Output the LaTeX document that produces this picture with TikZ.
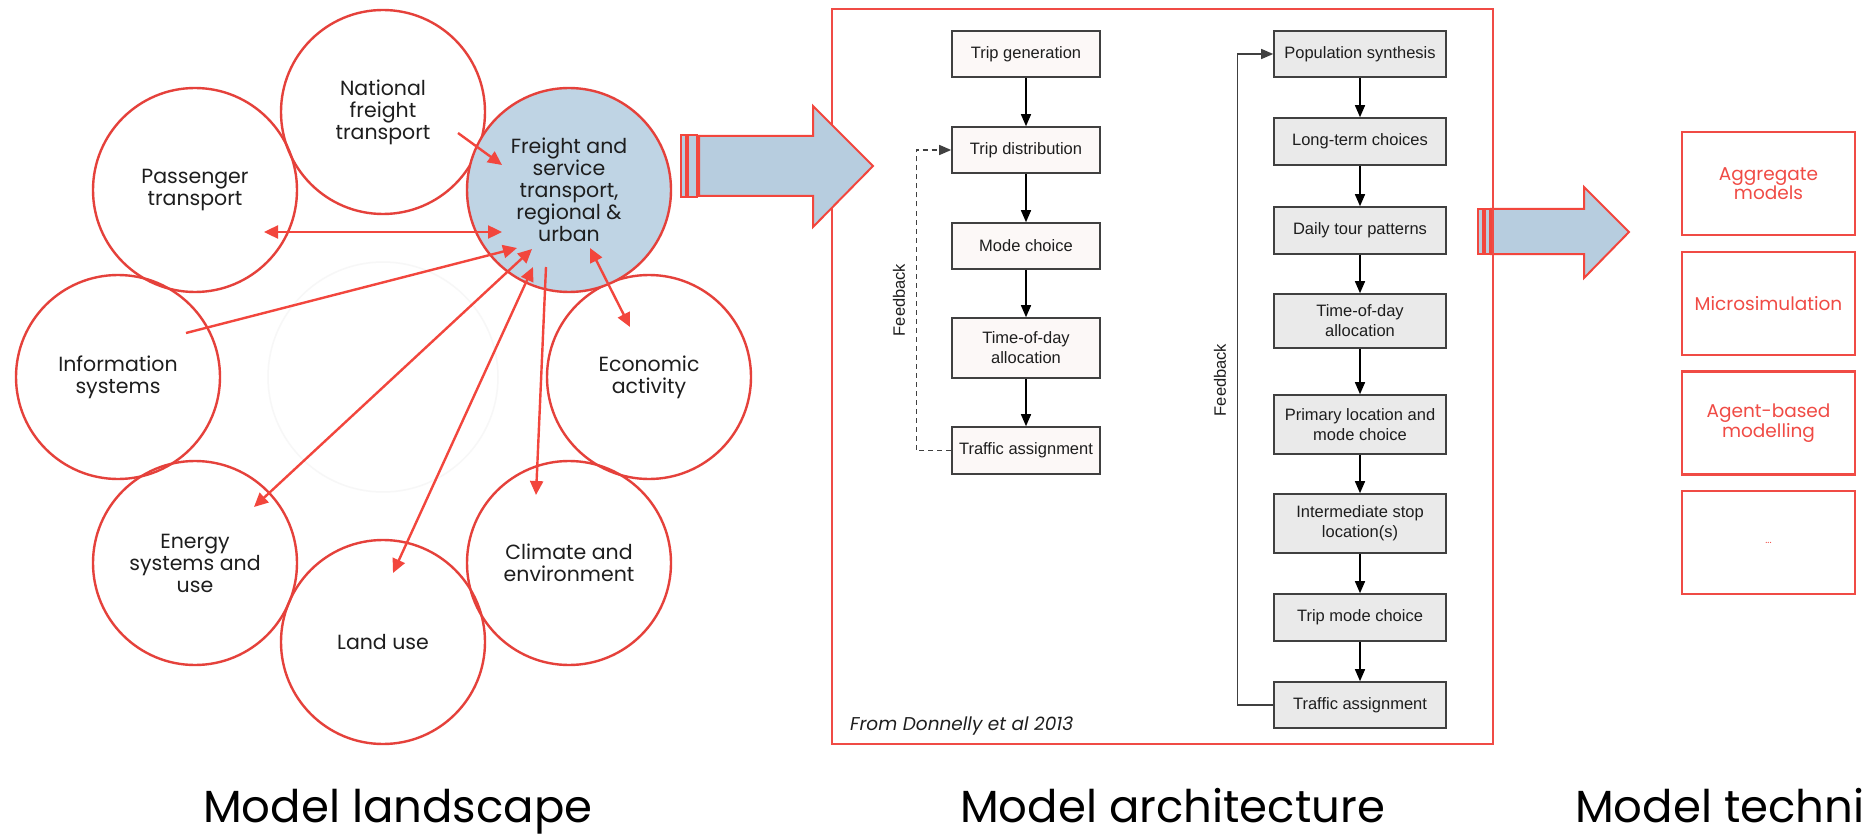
\documentclass[tikz,border=0pt]{standalone}
\usepackage{fontspec}
\setmainfont{Poppins}
\newfontfamily\helv{Liberation Sans}
\usetikzlibrary{arrows.meta}
\definecolor{cred}{HTML}{E5413B}
\definecolor{ared}{HTML}{F2463D}
\definecolor{bred}{HTML}{F04B45}
\definecolor{cblue}{HTML}{BFD4E4}
\definecolor{ablue}{HTML}{B7CDDF}
\definecolor{txt}{HTML}{1E1E1E}
\definecolor{fcline}{HTML}{404040}
\definecolor{lfill}{HTML}{FCF8F7}
\definecolor{rfill}{HTML}{EAEAEA}
\begin{document}
\begin{tikzpicture}[x=1pt,y=-1pt,
 bubble/.style={circle,draw=cred,line width=2.4pt,minimum size=204pt,inner sep=0pt,align=center,text=txt,font=\fontsize{20.5}{22}\selectfont},
 link/.style={draw=ared,line width=2.4pt,-{Triangle[length=14pt,width=13pt]}},
 blink/.style={draw=ared,line width=2.4pt,{Triangle[length=14pt,width=13pt]}-{Triangle[length=14pt,width=13pt]}},
 lbox/.style={draw=fcline,line width=1.6pt,fill=lfill,minimum width=148pt,inner sep=0pt,align=center,text=txt,font=\helv\fontsize{16.5}{20}\selectfont},
 rbox/.style={lbox,fill=rfill,minimum width=172pt},
 farrow/.style={draw=black,line width=1.4pt,-{Triangle[length=12pt,width=10pt]}},
 fblabel/.style={rotate=90,inner sep=0pt,text=txt,font=\helv\fontsize{16.5}{20}\selectfont},
 tbox/.style={draw=bred,line width=2.4pt,minimum width=173pt,minimum height=103pt,inner sep=0pt,align=center,text=bred,font=\fontsize{18.5}{19.5}\selectfont},
 title/.style={anchor=base west,inner sep=0pt,font=\fontsize{45}{48}\selectfont,text=black},
 barrow/.style={draw=ared,line width=2pt,fill=ablue,line join=miter}
]
\useasboundingbox (0,0) rectangle (1863,837);
\fill[white] (0,0) rectangle (1863,837);

% faint ring
\draw[black!3,line width=1.5pt] (383,377) circle[radius=115];

% landscape circles
\node[bubble] (nat) at (383,112) {National\\freight\\transport};
\node[bubble] (pas) at (195,190) {Passenger\\transport};
\node[bubble] (inf) at (118,377) {Information\\systems};
\node[bubble] (eco) at (649,377) {Economic\\activity};
\node[bubble] (ene) at (195,563) {Energy\\systems and\\use};
\node[bubble] (lan) at (383,642) {Land use};
\node[bubble] (cli) at (569,563) {Climate and\\environment};
\node[bubble,fill=cblue] (fre) at (569,190) {Freight and\\service\\transport,\\regional \&\\urban};

% arrow end points
\coordinate (natS) at (458,133);  \coordinate (natE) at (502,165);
\coordinate (pasS) at (264,232);  \coordinate (pasE) at (502,232);
\coordinate (infS) at (186,333);  \coordinate (infE) at (517,248);
\coordinate (eneS) at (532,249);  \coordinate (eneE) at (254,507);
\coordinate (lanS) at (533,267);  \coordinate (lanE) at (393,573);
\coordinate (cliS) at (546,267);  \coordinate (cliE) at (536,495);
\coordinate (ecoS) at (590,248);  \coordinate (ecoE) at (630,327);

\draw[link] (natS) -- (natE);
\draw[blink] (pasS) -- (pasE);
\draw[link] (infS) -- (infE);
\draw[blink] (eneS) -- (eneE);
\draw[blink] (lanS) -- (lanE);
\draw[link] (cliS) -- (cliE);
\draw[blink] (ecoS) -- (ecoE);

% second block arrow (under the frame)
\draw[barrow] (1491,209) -- (1584,209) -- (1584,187) -- (1629,232) -- (1584,278) -- (1584,254) -- (1491,254) -- cycle;
\draw[barrow] (1478,209) rectangle (1483,254);
\draw[barrow] (1485,209) rectangle (1490,254);

% architecture frame
\node[draw=bred,line width=2.4pt,minimum width=661pt,minimum height=735pt,inner sep=0pt] (arch) at (1162.5,376.5) {};

% first block arrow (over the frame)
\draw[barrow] (699,136) -- (813,136) -- (813,106) -- (873,166) -- (813,227) -- (813,196) -- (699,196) -- cycle;
\draw[barrow] (681,135) rectangle (686,197);
\draw[barrow] (688,135) rectangle (697,197);

% left flowchart
\node[lbox,minimum height=46pt] (tg) at (1026,54) {Trip generation};
\node[lbox,minimum height=46pt] (td) at (1026,150) {Trip distribution};
\node[lbox,minimum height=46pt] (mc) at (1026,246) {Mode choice};
\node[lbox,minimum height=60pt] (tod) at (1026,348) {Time-of-day\\allocation};
\node[lbox,minimum height=47pt] (ta) at (1026,450.5) {Traffic assignment};
\draw[farrow] (tg) -- (td);
\draw[farrow] (td) -- (mc);
\draw[farrow] (mc) -- (tod);
\draw[farrow] (tod) -- (ta);
\draw[farrow,draw=fcline,dash pattern=on 5pt off 4pt] (ta.west) -- ++(-35,0) |- (td.west);
\node[fblabel] (fb1) at (899,300) {Feedback};

% right flowchart
\node[rbox,minimum height=46pt] (ps) at (1360,54) {Population synthesis};
\node[rbox,minimum height=47pt] (lt) at (1360,141.5) {Long-term choices};
\node[rbox,minimum height=47pt] (dt) at (1360,230.5) {Daily tour patterns};
\node[rbox,minimum height=54pt] (tod2) at (1360,321) {Time-of-day\\allocation};
\node[rbox,minimum height=59pt] (pl) at (1360,424.5) {Primary location and\\mode choice};
\node[rbox,minimum height=59pt] (isl) at (1360,523.5) {Intermediate stop\\location(s)};
\node[rbox,minimum height=47pt] (tm) at (1360,617.5) {Trip mode choice};
\node[rbox,minimum height=46pt] (ta2) at (1360,705) {Traffic assignment};
\draw[farrow] (ps) -- (lt);
\draw[farrow] (lt) -- (dt);
\draw[farrow] (dt) -- (tod2);
\draw[farrow] (tod2) -- (pl);
\draw[farrow] (pl) -- (isl);
\draw[farrow] (isl) -- (tm);
\draw[farrow] (tm) -- (ta2);
\draw[farrow,draw=fcline] (ta2.west) -- ++(-36,0) |- (ps.west);
\node[fblabel] (fb2) at (1220,380) {Feedback};

\node[anchor=base west,inner sep=0pt,text=txt,font=\fontsize{18.5}{20}\selectfont\itshape] (src) at (850,730) {From Donnelly et al 2013};

% technique boxes
\node[tbox] (agg) at (1768.5,183.5) {Aggregate\\models};
\node[tbox] (mic) at (1768.5,303.5) {Microsimulation};
\node[tbox] (abm) at (1768.5,423) {Agent-based\\modelling};
\node[tbox] (etc) at (1768.5,542.5) {\fontsize{10}{11}\selectfont ...};

% titles
\node[title] (t1) at (203,822) {Model landscape};
\node[title] (t2) at (960,822) {Model architecture};
\node[title] (t3) at (1575,822) {Model techni};
\end{tikzpicture}
\end{document}
